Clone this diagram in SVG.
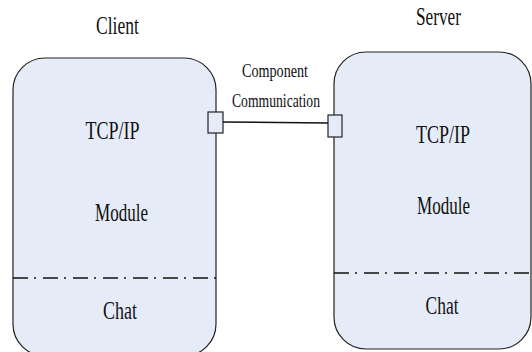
<svg xmlns="http://www.w3.org/2000/svg" width="532" height="352" viewBox="0 0 532 352">
  <style>
    .box { fill: #e6ecf7; stroke: #222222; stroke-width: 1.2; }
    .port { fill: #e6ecf7; stroke: #222222; stroke-width: 1.2; }
    .sep { stroke: #111111; stroke-width: 1.3; stroke-dasharray: 15 6 2 7; fill: none; }
    .wire { stroke: #111111; stroke-width: 1.4; fill: none; }
    text { font-family: "Liberation Serif", "DejaVu Serif", serif; fill: #111111; text-anchor: middle; }
    .big { font-size: 26px; }
    .small { font-size: 19px; }
  </style>
  <rect width="532" height="352" fill="#ffffff"/>

  <g id="client">
    <rect class="box" x="13" y="58" width="203" height="298" rx="32" ry="32"/>
    <line class="sep" x1="13" y1="278" x2="216" y2="278"/>
    <text class="big" x="117.5" y="34" textLength="43" lengthAdjust="spacingAndGlyphs">Client</text>
    <text class="big" x="112.5" y="139" textLength="54" lengthAdjust="spacingAndGlyphs">TCP/IP</text>
    <text class="big" x="121.5" y="221" textLength="53" lengthAdjust="spacingAndGlyphs">Module</text>
    <text class="big" x="120" y="319" textLength="34" lengthAdjust="spacingAndGlyphs">Chat</text>
    <rect class="port" x="208" y="112" width="15" height="21"/>
  </g>

  <g id="server">
    <rect class="box" x="334" y="52" width="197" height="297" rx="32" ry="32"/>
    <line class="sep" x1="334" y1="273" x2="531" y2="273"/>
    <text class="big" x="438.5" y="25" textLength="45" lengthAdjust="spacingAndGlyphs">Server</text>
    <text class="big" x="443" y="143" textLength="54" lengthAdjust="spacingAndGlyphs">TCP/IP</text>
    <text class="big" x="443.5" y="214" textLength="53" lengthAdjust="spacingAndGlyphs">Module</text>
    <text class="big" x="442" y="314" textLength="33" lengthAdjust="spacingAndGlyphs">Chat</text>
    <rect class="port" x="328" y="115" width="14" height="22"/>
  </g>

  <g id="connectors">
    <line class="wire" x1="223" y1="122" x2="328" y2="123"/>
    <text class="small" x="275" y="77" textLength="66" lengthAdjust="spacingAndGlyphs">Component</text>
    <text class="small" x="276" y="107" textLength="88" lengthAdjust="spacingAndGlyphs">Communication</text>
  </g>
</svg>
